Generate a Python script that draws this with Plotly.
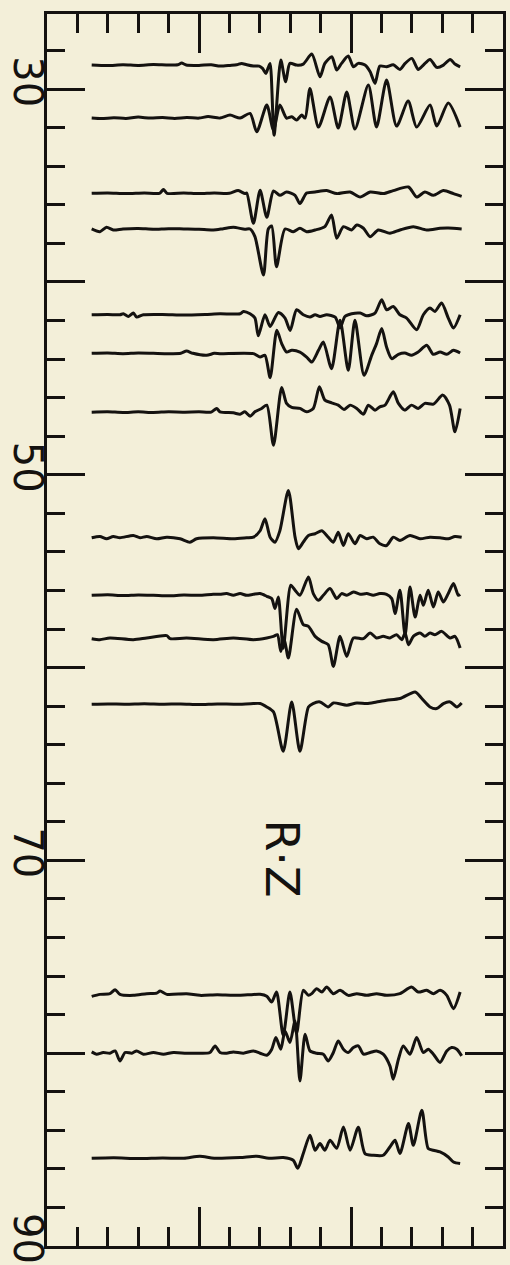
import plotly.graph_objects as go

# Epicentral distance (deg) of each record, top to bottom
DISTANCES = [28.75, 31.5, 35.4, 37.25, 41.7, 43.7, 46.75, 53.25,
             56.25, 58.5, 61.9, 77.0, 80.0, 85.45]

# Each record: (time in s, relative amplitude, positive = up)
trace_1 = [(1.47, 0), (2.0, -0.5), (2.5, 0.3), (3.0, -0.3), (3.5, 0.5), (4.0, 0), (4.3, 0.3),
           (4.43, 2), (4.58, 0), (5.0, -0.3), (5.4, 0.3), (5.69, -1), (6.02, -0.3), (6.24, 0.3),
           (6.40, 1.7), (6.57, 0.3), (6.79, -1), (6.98, -1), (7.09, -3.3), (7.20, -8.3),
           (7.28, -2.3), (7.34, 1.7), (7.47, -70), (7.69, 5), (7.85, -16.7), (7.99, 1.7),
           (8.21, 0), (8.43, 1), (8.71, 11), (8.98, -11.7), (9.14, 1.7), (9.37, 8.3), (9.53, -5),
           (9.69, 1.7), (9.91, 9), (10.08, -1.7), (10.24, 1.7), (10.46, 0), (10.63, -6.7),
           (10.79, -18.3), (10.95, -1), (11.17, -1.7), (11.39, 0.3), (11.61, -4.3), (11.78, 1.7),
           (12.00, 6.7), (12.21, -4.3), (12.38, 0), (12.60, 5.7), (12.82, -2.3), (13.04, 0),
           (13.26, 5.7), (13.42, 1), (13.59, -1.7)]

trace_2 = [(1.47, 0), (1.8, -0.5), (2.2, 0.3), (2.6, -0.3), (3.0, 1.0), (3.4, 0), (3.8, 0.5),
           (4.2, -0.3), (4.6, 0.5), (5.0, 0), (5.3, 1.5), (5.69, 0), (6.02, 3), (6.35, 0),
           (6.68, 4.7), (6.90, -13.7), (7.23, 13), (7.45, -12), (7.66, 13), (7.88, 0), (8.05, 1.3),
           (8.21, -2), (8.38, 3), (8.49, 0), (8.65, 29.5), (8.93, -9), (9.31, 21), (9.58, -10),
           (9.86, 26), (10.13, -11), (10.57, 33), (10.84, -9), (11.17, 38), (11.50, -8),
           (11.88, 17), (12.16, -9), (12.60, 13), (12.82, -8), (13.20, 15), (13.59, -9)]

trace_3 = [(1.47, 0), (2.0, 0.3), (2.6, -0.3), (3.2, 0.3), (3.7, 0), (3.83, 3.7), (3.95, 0),
           (4.5, 0.3), (5.0, -0.3), (5.5, 0.3), (6.0, 0), (6.29, 2.7), (6.51, -0.3), (6.57, 0.3),
           (6.79, -30), (7.01, 3), (7.23, -24), (7.45, 2.3), (7.66, -2), (7.88, 1.3), (8.16, -2),
           (8.32, -10.3), (8.54, 0.3), (8.82, 1.3), (9.20, 2.7), (9.53, -0.3), (9.97, 1.3),
           (10.30, -3.7), (10.63, 1.3), (11.06, -0.3), (11.39, 2.7), (11.89, 6.3), (12.16, -3.7),
           (12.43, 1.3), (12.71, -2), (13.04, 2.7), (13.37, -0.3), (13.64, -3)]

trace_4 = [(1.47, 0), (1.74, -2.7), (1.96, 1.7), (2.18, -1), (2.5, 0), (3.0, 0.5), (3.5, -0.3),
           (4.0, 0.3), (4.5, 0), (5.0, -0.3), (5.47, -1), (5.8, 0.3), (6.13, 1.7), (6.51, -0.3),
           (6.68, 0), (6.84, -7.7), (7.12, -46), (7.28, 0), (7.39, 3), (7.55, -37.7), (7.83, 0),
           (8.10, -2.7), (8.32, 0.7), (8.54, -2.7), (8.82, -1), (9.14, 2.3), (9.36, 14),
           (9.53, -9.3), (9.75, 2.3), (10.02, -1), (10.19, 4), (10.41, 0.7), (10.63, -7.7),
           (10.90, -1), (11.28, -4.3), (11.61, -1), (12.05, 2.3), (12.49, -1), (12.93, 0.7),
           (13.2, 1), (13.64, 0)]

trace_5 = [(1.47, 0), (2.0, 0.3), (2.4, 0), (2.51, 1), (2.68, -1.7), (2.84, 1.7), (2.95, -2.3),
           (3.17, 0), (3.8, 0.3), (4.5, -0.3), (5.2, 0.3), (5.69, 1), (6.35, 1), (6.46, 3.3),
           (6.68, 1), (6.84, -3.3), (6.95, -21), (7.17, 0), (7.34, -11.7), (7.61, 2.3),
           (7.83, -3.3), (8.00, -15.7), (8.21, 5), (8.43, 0), (8.65, -2.3), (8.82, 0), (8.98, -1.7),
           (9.20, 0), (9.48, -2.3), (9.64, -13.3), (9.80, -1.7), (10.02, 1), (10.30, 1.7),
           (10.52, -1), (10.79, 1.7), (11.01, 15), (11.17, 5), (11.39, 8.3), (11.61, 0),
           (11.83, -3.3), (12.16, -15), (12.38, 0), (12.60, 6.7), (12.76, 3.3), (12.98, 11.7),
           (13.20, -3.3), (13.37, -13.3), (13.59, 0)]

trace_6 = [(1.47, 0), (2.0, 0.3), (2.5, -0.3), (3.0, 0.3), (3.5, 0), (4.0, -0.3), (4.4, 0),
           (4.59, 2.3), (4.8, 0), (5.25, -2), (5.5, 0), (5.69, -0.3), (6.79, -0.3), (7.01, -3.7),
           (7.17, -2), (7.34, -24.3), (7.56, 23), (7.72, 9.7), (7.88, 1.3), (8.05, 3), (8.32, 1.3),
           (8.54, -3.7), (8.71, -8.7), (8.93, 3), (9.09, 11.3), (9.36, -15.3), (9.64, 33),
           (9.91, -17), (10.13, 33), (10.43, -22), (10.68, -2), (10.84, 9.7), (11.01, 24.7),
           (11.17, 6.3), (11.34, -5.3), (11.56, -1), (11.77, 0.3), (11.99, -2), (12.21, 1.3),
           (12.49, 8), (12.71, -1), (12.93, 1.3), (13.15, -1), (13.37, 3), (13.59, 0.3)]

trace_7 = [(1.47, 0), (2.0, 0.3), (2.5, -0.3), (3.0, 0.3), (3.5, -0.3), (4.0, 0.3), (4.5, 0),
           (5.0, 0.3), (5.4, 0), (5.58, 3.7), (5.69, 0.3), (6.13, -0.7), (6.35, -2), (6.51, 0.3),
           (6.68, -4), (6.84, 0.3), (7.06, 3.7), (7.23, 7), (7.45, -33), (7.72, 24.7), (7.88, 8.7),
           (8.05, 4.7), (8.32, 3.7), (8.54, 0.3), (8.76, 3.7), (8.96, 25.3), (9.14, 12), (9.36, 9.3),
           (9.58, 7), (9.77, 2.7), (9.97, 7), (10.19, 3.7), (10.41, -2), (10.57, 7), (10.79, 2),
           (10.95, 5.3), (11.12, 7), (11.39, 20.3), (11.56, 8.7), (11.77, 2), (11.99, 7),
           (12.21, 3.7), (12.43, 8.7), (12.71, 8), (13.02, 17), (13.24, 7), (13.42, -19.7),
           (13.59, 3.7)]

trace_8 = [(1.47, -0.3), (1.74, 1), (1.96, -1.3), (2.18, 1), (2.40, -0.3), (2.84, 2), (3.06, -0.3),
           (3.28, 1), (3.61, -1.3), (3.94, 0.3), (4.38, -1.3), (4.70, -4.7), (4.92, -1.3),
           (5.47, -0.3), (6.13, -1.3), (6.57, -0.3), (6.79, 0.3), (7.01, 6.7), (7.17, 18.7),
           (7.34, 0.3), (7.50, -4.7), (7.66, 6.7), (7.94, 47), (8.16, 0.3), (8.27, -11.3),
           (8.43, -4.7), (8.60, 2), (8.82, 3.7), (9.04, 6.7), (9.25, 0.3), (9.42, -4.7), (9.58, 5.3),
           (9.75, -8), (9.91, 3.7), (10.13, -6.3), (10.30, 2), (10.52, -1.3), (10.73, 0.3),
           (10.95, -6.3), (11.17, -8), (11.39, 0.3), (11.61, -3), (11.94, 2), (12.27, -1.3),
           (12.60, 0.3), (12.93, -0.3), (13.20, -1.3), (13.42, 1), (13.64, 0.3)]

trace_9 = [(1.47, 0), (2.0, 0.5), (2.5, -0.3), (3.0, 0.3), (3.5, 0), (4.0, -0.5), (4.5, 0.3),
           (5.0, 0), (5.47, 1), (5.69, 1), (5.91, 1.7), (6.13, 0), (6.35, 1.7), (6.57, 0), (6.79, 1),
           (7.01, 1.7), (7.23, -1), (7.39, -3.3), (7.50, -13.3), (7.61, -1.7), (7.77, -53),
           (8.02, 10), (8.16, 5), (8.32, 0), (8.60, 18.3), (8.76, 1.7), (8.93, -5), (9.09, 0),
           (9.31, 6.7), (9.53, -3.3), (9.69, 1.7), (9.86, 0), (10.08, 3.3), (10.30, 1),
           (10.52, 1.7), (10.73, 0), (10.95, 1.7), (11.17, 1), (11.34, -3.3), (11.45, -18.3),
           (11.61, 5), (11.78, -40), (11.94, 8.3), (12.11, -21.7), (12.27, 0), (12.38, -10),
           (12.54, 5), (12.71, -11.7), (12.87, 3.3), (13.04, -6.7), (13.20, 1.7), (13.37, 11.7),
           (13.53, 0), (13.59, 1)]

trace_10 = [(1.47, 0), (1.74, -1), (2.07, 0.7), (2.84, -1), (3.28, 0.7), (3.94, 3), (4.05, 0),
            (4.59, 0.7), (5.47, -1), (6.13, 0.7), (6.79, -1), (7.23, 0.7), (7.45, 2.3), (7.58, 4),
            (7.69, -12.7), (7.80, 0), (7.94, -19.3), (8.21, 29.3), (8.43, 14), (8.60, 12.3),
            (8.82, 2.3), (9.04, -2.7), (9.25, -6), (9.42, -27.7), (9.64, 2.3), (9.86, -17.7),
            (10.08, 0.7), (10.41, 0), (10.63, 5.7), (10.84, 0.7), (11.06, 2.3), (11.28, 0.7),
            (11.50, 4), (11.67, -1), (11.78, 5.7), (11.89, -6), (12.05, 2.3), (12.27, 5.7),
            (12.43, 2.3), (12.60, 5.7), (12.76, 4), (12.98, 7.3), (13.26, 0.7), (13.42, 2.3),
            (13.59, -9.3)]

trace_11 = [(1.47, 0), (2.0, 0.3), (2.6, 0), (3.2, 0.5), (3.8, 0), (4.4, 0.3), (5.0, -0.3),
            (5.6, 0.3), (6.2, 0), (6.7, 0.5), (7.01, 0.7), (7.23, -2.7), (7.45, -7.7), (7.77, -47),
            (8.05, 2.3), (8.32, -47), (8.60, -2.7), (8.75, 0.7), (8.98, 2.3), (9.25, -2.7),
            (9.42, 1.3), (9.86, -1), (10.19, 1.3), (10.52, 0.7), (10.84, 2.3), (11.17, 4),
            (11.61, 5.7), (12.11, 12.3), (12.33, 5.7), (12.60, -2.7), (12.82, -4.3), (13.04, 0.7),
            (13.26, 2.3), (13.48, -2.7), (13.64, 1.3)]

trace_12 = [(1.47, -1), (1.74, 1), (2.07, 1.7), (2.24, 5.7), (2.40, 1), (2.84, 0), (3.28, 1.7),
            (3.61, 2.3), (3.72, 4.3), (3.94, 1), (4.59, 1.7), (5.03, 0), (5.6, 0.5), (6.13, 0),
            (6.6, 0.5), (7.01, 1), (7.23, -1), (7.39, -6.7), (7.55, 3.3), (7.77, -40), (7.99, 3.3),
            (8.21, -38), (8.43, 5), (8.60, 0), (8.71, 1.7), (8.87, 6.7), (9.04, 3.3), (9.20, 8.3),
            (9.42, 1.7), (9.64, 5), (9.91, 0), (10.19, 1.7), (10.52, 0), (10.84, 1.7), (11.17, 0),
            (11.61, 1.7), (11.99, 8.3), (12.21, 3.3), (12.49, 5), (12.71, 1.7), (12.93, 5),
            (13.15, 0), (13.37, -13.3), (13.59, 3.3)]

trace_13 = [(1.47, 1.3), (1.63, -1), (1.85, 0.7), (2.07, 0), (2.24, 2.3), (2.40, -7.7), (2.57, 0.7),
            (2.79, 0), (2.95, 2.3), (3.17, -1), (3.50, 0.7), (3.83, -1), (4.16, 0.7), (4.59, 0),
            (5.03, 0), (5.36, 0.7), (5.53, 7.3), (5.69, 0.7), (5.91, 0), (6.13, 1.3), (6.46, 0),
            (6.79, 2.3), (7.01, 0), (7.23, -2), (7.39, 3.7), (7.53, 15.7), (7.69, 4), (7.83, 22.3),
            (7.99, 10.7), (8.16, 32.3), (8.32, -27.7), (8.49, 19), (8.65, 2.3), (8.87, 0),
            (9.09, -1), (9.25, -7.7), (9.42, 0.7), (9.58, 12.3), (9.75, 4), (9.91, 0.7),
            (10.08, 5.7), (10.24, 7.3), (10.41, -1), (10.63, 0.7), (10.84, 2.3), (11.06, -1),
            (11.28, -12.7), (11.39, -26), (11.56, -6), (11.72, 7.3), (11.94, -1), (12.16, 15.7),
            (12.38, 0.7), (12.54, 4), (12.71, -1), (12.93, -9.3), (13.15, 2.3), (13.31, 5.7),
            (13.48, 4), (13.64, -2.7)]

trace_14 = [(1.47, 0), (2.2, 0.5), (3.0, -0.3), (3.8, 0.3), (4.5, 0), (5.03, 2), (5.5, 0),
            (6.35, 0.7), (6.9, 2), (7.3, 0), (7.77, 0.7), (8.10, -2), (8.25, -10), (8.43, 4.7),
            (8.65, 23), (8.82, 8), (8.98, 14.7), (9.14, 8), (9.31, 18), (9.53, 10), (9.75, 31.3),
            (9.97, 8), (10.24, 31), (10.46, 4.7), (10.73, 3), (11.06, 3), (11.28, 11.3),
            (11.45, 18), (11.61, 4.7), (11.89, 34.7), (12.05, 13), (12.33, 48), (12.54, 9.7),
            (12.71, 8), (12.93, 6.3), (13.20, 1.3), (13.37, -3.7), (13.59, -5.3)]

RECORDS = [trace_1, trace_2, trace_3, trace_4, trace_5, trace_6, trace_7,
           trace_8, trace_9, trace_10, trace_11, trace_12, trace_13, trace_14]

# Distance axis: long ticks every 10 deg, numbered every 20 deg
DIST_TICKS = [30, 40, 50, 60, 70, 80, 90]
DIST_LABELS = ["30", "50", "70", "90"]

GAIN = 0.0519        # degrees of distance per amplitude unit
INK = "#141210"
PAPER = "#f3efd9"

fig = go.Figure()

for dist, rec in zip(DISTANCES, RECORDS):
    t = [p[0] for p in rec]
    y = [dist - p[1] * GAIN for p in rec]
    fig.add_trace(go.Scatter(
        x=t, y=y, mode="lines",
        line=dict(color=INK, width=3, shape="spline", smoothing=0.7),
        hoverinfo="skip", showlegend=False,
    ))

# small index marks just outside the frame at each record's distance
fig.add_trace(go.Scatter(
    x=[-0.2] * len(DISTANCES), y=DISTANCES, mode="markers",
    marker=dict(symbol="line-ew", size=12, line=dict(color=INK, width=2.5)),
    cliponaxis=False, hoverinfo="skip", showlegend=False,
))

# distance numbers, written sideways beside the frame
for lab in DIST_LABELS:
    fig.add_annotation(
        x=-0.0417, xref="paper", y=float(lab), yref="y", yshift=7,
        text=lab, showarrow=False, textangle=90,
        xanchor="center", yanchor="middle",
        font=dict(family="DejaVu Sans", size=40, color=INK),
    )

fig.add_annotation(
    x=7.70, y=69.9, xref="x", yref="y", text="R·Z", showarrow=False,
    textangle=90, font=dict(family="DejaVu Sans", size=46, color=INK),
)

fig.update_xaxes(
    range=[0, 15], showgrid=False, zeroline=False, automargin=False,
    showline=True, linecolor=INK, linewidth=2.8, mirror="ticks",
    ticks="inside", dtick=5, tick0=0, ticklen=39, tickwidth=2.5, tickcolor=INK,
    minor=dict(ticks="inside", dtick=1, ticklen=19, tickwidth=2.5, tickcolor=INK),
    showticklabels=False,
)
fig.update_yaxes(
    range=[90, 26.1], showgrid=False, zeroline=False, automargin=False,
    showline=True, linecolor=INK, linewidth=2.8, mirror="ticks",
    ticks="inside", tickmode="array", tickvals=DIST_TICKS,
    ticklen=38, tickwidth=2.5, tickcolor=INK,
    minor=dict(ticks="inside", tickmode="linear", tick0=26, dtick=2,
               ticklen=18, tickwidth=2.5, tickcolor=INK),
    showticklabels=False,
)

fig.update_layout(
    width=510, height=1265,
    margin=dict(l=47, r=7, t=14, b=19),
    paper_bgcolor=PAPER, plot_bgcolor=PAPER,
)

fig.write_html("out.html")
